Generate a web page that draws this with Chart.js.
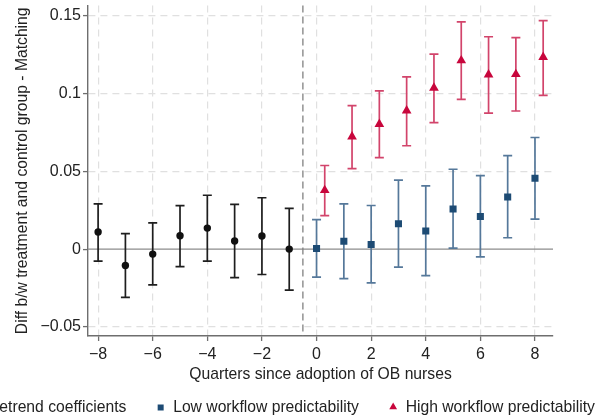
<!DOCTYPE html>
<html>
<head>
<meta charset="utf-8">
<script src="https://cdn.jsdelivr.net/npm/chart.js"></script>
<style>
  html, body { margin: 0; padding: 0; background: #fff; }
  #wrap { width: 608px; height: 419px; overflow: hidden; }
</style>
</head>
<body>
<div id="wrap"><canvas id="coefChart" width="608" height="419"></canvas></div>
<script>
// quarters relative to adoption of OB nurses
const preQuarters = [-8, -7, -6, -5, -4, -3, -2, -1];
const postQuarters = [0, 1, 2, 3, 4, 5, 6, 7, 8];

// pretrend coefficients with 95% CI
const preCoef = [0.011, -0.0105, -0.0032, 0.0086, 0.0135, 0.0052, 0.0084, 0.0];
const preLow  = [-0.0077, -0.031, -0.023, -0.0112, -0.0077, -0.0183, -0.0163, -0.0264];
const preHigh = [0.029, 0.010, 0.0168, 0.0279, 0.0346, 0.0288, 0.033, 0.0262];

// low workflow predictability
const lowCoef = [0.0004, 0.005, 0.003, 0.0163, 0.0116, 0.0258, 0.021, 0.0335, 0.0455];
const lowLow  = [-0.018, -0.019, -0.0217, -0.0116, -0.017, 0.0006, -0.005, 0.0073, 0.0193];
const lowHigh = [0.019, 0.029, 0.028, 0.0443, 0.0406, 0.0513, 0.0472, 0.060, 0.0717];

// high workflow predictability
const highCoef = [0.0378, 0.0722, 0.0803, 0.0889, 0.1035, 0.1211, 0.1121, 0.1123, 0.1233];
const highLow  = [0.0215, 0.0517, 0.0588, 0.0664, 0.0812, 0.0962, 0.0874, 0.0887, 0.0988];
const highHigh = [0.0537, 0.0921, 0.1016, 0.1106, 0.1252, 0.1459, 0.1364, 0.1358, 0.1468];

const seriesNames = ['Pretrend coefficients', 'Low workflow predictability', 'High workflow predictability'];

const yTicks = [-0.05, 0, 0.05, 0.1, 0.15];
const yTickLabels = ['\u22120.05', '0', '0.05', '0.1', '0.15'];
const xTicks = [-8, -6, -4, -2, 0, 2, 4, 6, 8];
const xTickLabels = ['\u22128', '\u22126', '\u22124', '\u22122', '0', '2', '4', '6', '8'];

const FONT = '"Liberation Sans", Arial, Helvetica, sans-serif';
const HIGH_SHIFT = 0.3;   // high series drawn a bit right of the low series

function points(xs, ys, shift) {
  return xs.map((q, i) => ({ x: q + (shift || 0), y: ys[i] }));
}

function drawMark(ctx, style, x, y, r, color) {
  ctx.fillStyle = color;
  ctx.beginPath();
  if (style === 'circle') {
    ctx.arc(x, y, r, 0, Math.PI * 2);
  } else if (style === 'rect') {
    ctx.rect(x - r, y - r, 2 * r, 2 * r);
  } else {
    const h = r * Math.sqrt(3) / 2;
    ctx.moveTo(x, y - r);
    ctx.lineTo(x + h, y + r / 2);
    ctx.lineTo(x - h, y + r / 2);
    ctx.closePath();
  }
  ctx.fill();
}

// reference lines + confidence intervals, under the markers
const errorBars = {
  id: 'errorBars',
  beforeDatasetsDraw(chart) {
    const { ctx, chartArea, scales: { x, y } } = chart;
    ctx.save();
    // zero line
    const y0 = y.getPixelForValue(0);
    ctx.strokeStyle = '#8c8c8c';
    ctx.lineWidth = 1.3;
    ctx.beginPath();
    ctx.moveTo(chartArea.left, y0);
    ctx.lineTo(chartArea.right, y0);
    ctx.stroke();
    // adoption line
    const xa = x.getPixelForValue(-0.5);
    ctx.strokeStyle = '#808080';
    ctx.setLineDash([7, 4]);
    ctx.beginPath();
    ctx.moveTo(xa, chartArea.top);
    ctx.lineTo(xa, chartArea.bottom);
    ctx.stroke();
    ctx.setLineDash([]);

    chart.data.datasets.forEach(ds => {
      ctx.strokeStyle = ds.barColor;
      ctx.lineWidth = 1.7;
      ds.data.forEach((p, i) => {
        const px = x.getPixelForValue(p.x);
        const top = y.getPixelForValue(ds.ciHigh[i]);
        const bot = y.getPixelForValue(ds.ciLow[i]);
        ctx.beginPath();
        ctx.moveTo(px, top); ctx.lineTo(px, bot);
        ctx.moveTo(px - 4.5, top); ctx.lineTo(px + 4.5, top);
        ctx.moveTo(px - 4.5, bot); ctx.lineTo(px + 4.5, bot);
        ctx.stroke();
      });
    });
    ctx.restore();
  }
};

// one-row legend under the axis title
const bottomLegend = {
  id: 'bottomLegend',
  afterDraw(chart) {
    const ctx = chart.ctx;
    const sets = chart.data.datasets;
    const markGap = 12.5, itemGap = 34.3, centerX = 283, cy = 408;
    ctx.save();
    ctx.font = '15.7px ' + FONT;
    const widths = sets.map(d => ctx.measureText(d.label).width);
    let total = itemGap * (sets.length - 1);
    widths.forEach(w => { total += markGap + w; });
    let mx = centerX - total / 2;
    ctx.textBaseline = 'middle';
    ctx.textAlign = 'left';
    sets.forEach((d, i) => {
      const r = d.pointStyle === 'circle' ? 3.3 : d.pointStyle === 'rect' ? 3 : 4.5;
      drawMark(ctx, d.pointStyle, mx, d.pointStyle === 'triangle' ? cy - 1 : cy - 0.5, r, d.pointBackgroundColor);
      ctx.fillStyle = '#222';
      ctx.fillText(d.label, mx + markGap, cy);
      mx += markGap + widths[i] + itemGap;
    });
    ctx.restore();
  }
};

const gridColor = '#e0e0e0';
const axisColor = '#6e6e6e';

new Chart(document.getElementById('coefChart').getContext('2d'), {
  type: 'scatter',
  data: {
    datasets: [{
      label: seriesNames[0],
      data: points(preQuarters, preCoef),
      ciLow: preLow, ciHigh: preHigh,
      barColor: '#1e1e1e',
      pointStyle: 'circle',
      pointRadius: 3.7,
      pointBackgroundColor: '#111111',
      pointBorderWidth: 0
    }, {
      label: seriesNames[1],
      data: points(postQuarters, lowCoef),
      ciLow: lowLow, ciHigh: lowHigh,
      barColor: '#55789a',
      pointStyle: 'rect',
      pointRadius: 5,
      pointBackgroundColor: '#1d4b74',
      pointBorderWidth: 0
    }, {
      label: seriesNames[2],
      data: points(postQuarters, highCoef, HIGH_SHIFT),
      ciLow: highLow, ciHigh: highHigh,
      barColor: '#d2446b',
      pointStyle: 'triangle',
      pointRadius: 5.6,
      pointBackgroundColor: '#c8063c',
      pointBorderWidth: 0
    }]
  },
  options: {
    responsive: false,
    animation: false,
    events: [],
    layout: { padding: { top: 5, right: 55, left: 0, bottom: 0 } },
    plugins: {
      legend: { display: false },
      tooltip: { enabled: false }
    },
    scales: {
      x: {
        type: 'linear',
        min: -8.37,
        max: 8.66,
        afterBuildTicks(s) { s.ticks = xTicks.map(v => ({ value: v })); },
        afterFit(s) { s.height = 83; s.paddingLeft = 0; s.paddingRight = 0; },
        ticks: {
          callback: v => xTickLabels[xTicks.indexOf(v)],
          font: { family: FONT, size: 16 },
          color: '#222',
          padding: 4,
          maxRotation: 0
        },
        grid: { color: gridColor, lineWidth: 1.2, tickLength: 5, tickColor: axisColor, tickWidth: 1.3 },
        border: { color: axisColor, width: 1.4, dash: [7, 5] },
        title: {
          display: true,
          text: 'Quarters since adoption of OB nurses',
          font: { family: FONT, size: 15.7 },
          color: '#222',
          padding: { top: 0, bottom: 35 }
        }
      },
      y: {
        min: -0.0558,
        max: 0.1564,
        afterBuildTicks(s) { s.ticks = yTicks.map(v => ({ value: v })); },
        afterFit(s) { s.width = 88; s.paddingTop = 0; s.paddingBottom = 0; },
        ticks: {
          callback: v => yTickLabels[yTicks.indexOf(v)],
          font: { family: FONT, size: 16 },
          color: '#222',
          padding: 2
        },
        grid: {
          color: c => (c.tick && c.tick.value === 0 ? 'rgba(0,0,0,0)' : gridColor),
          lineWidth: 1.2, tickLength: 5, tickColor: axisColor, tickWidth: 1.3
        },
        border: { color: axisColor, width: 1.4, dash: [7, 5] },
        title: {
          display: true,
          text: 'Diff b/w treatment and control group - Matching',
          font: { family: FONT, size: 15.7 },
          color: '#222',
          padding: { top: 13, bottom: 0 }
        }
      }
    }
  },
  plugins: [errorBars, bottomLegend]
});
</script>
</body>
</html>
